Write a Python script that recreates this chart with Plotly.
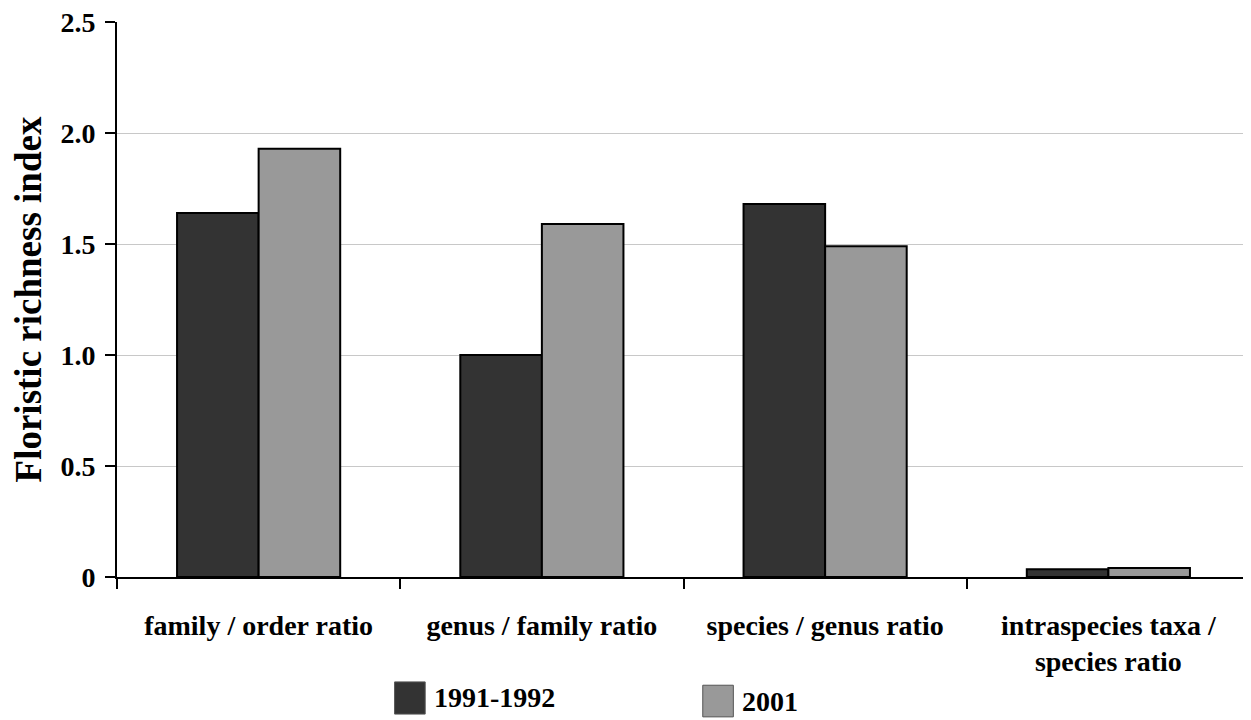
import plotly.graph_objects as go

categories = ["family / order ratio", "genus / family ratio", "species / genus ratio",
              "intraspecies taxa /<br>species ratio"]
series_names = ["1991-1992", "2001"]
values_1991 = [1.64, 1.00, 1.68, 0.035]
values_2001 = [1.93, 1.59, 1.49, 0.04]
y_tickvals = [0, 0.5, 1.0, 1.5, 2.0, 2.5]
y_ticktext = ["0", "0.5", "1.0", "1.5", "2.0", "2.5"]
colors = ["#333333", "#999999"]

FONT = "Liberation Serif"

fig = go.Figure()
for name, vals, col in zip(series_names, [values_1991, values_2001], colors):
    fig.add_trace(go.Bar(x=categories, y=vals, name=name, marker_color=col,
                         marker_line_color="black", marker_line_width=2,
                         showlegend=False))

# page body has an 8px margin, so the figure is sized to fit the 1251x720 window
fig.update_layout(
    width=1243, height=712,
    margin=dict(l=109, r=1, t=14, b=143, autoexpand=False),
    paper_bgcolor="white", plot_bgcolor="white",
    barmode="group", bargap=0.424, bargroupgap=0,
    font=dict(family=FONT, color="black"),
)
fig.update_xaxes(
    range=[-0.5, 3.5], showline=True, linecolor="black", linewidth=2,
    ticks="outside", tickson="boundaries", ticklen=10, tickwidth=2, tickcolor="black",
    tickfont=dict(family=FONT, size=28, color="black", weight="bold"),
    ticklabelstandoff=22, showgrid=False, automargin=False,
)
fig.update_yaxes(
    range=[0, 2.5005], tickvals=y_tickvals, ticktext=y_ticktext,
    showline=True, linecolor="black", linewidth=2,
    ticks="outside", ticklen=10, tickwidth=2, tickcolor="black",
    tickfont=dict(family=FONT, size=28, color="black", weight="bold"),
    ticklabelstandoff=4, ticklabeloverflow="allow",
    showgrid=True, gridcolor="#c8c8c8", gridwidth=1, zeroline=False,
    automargin=False,
    title=dict(text="Floristic richness index", standoff=14,
               font=dict(family=FONT, size=37, color="black", weight="bold")),
)

# Legend drawn below the plot
legend_x = [0.245, 0.517]
legend_y = [(-0.247, -0.189), (-0.252, -0.195)]
for name, col, lx, (y0, y1) in zip(series_names, colors, legend_x, legend_y):
    fig.add_shape(type="rect", xref="paper", yref="paper",
                  x0=lx, x1=lx + 0.027, y0=y0, y1=y1,
                  fillcolor=col, line=dict(color="#555555", width=1))
    fig.add_annotation(text=name, xref="paper", yref="paper", x=lx + 0.033, y=(y0 + y1) / 2,
                       xanchor="left", yanchor="middle", showarrow=False,
                       font=dict(family=FONT, size=28, color="black", weight="bold"))

fig.write_html("out.html")
